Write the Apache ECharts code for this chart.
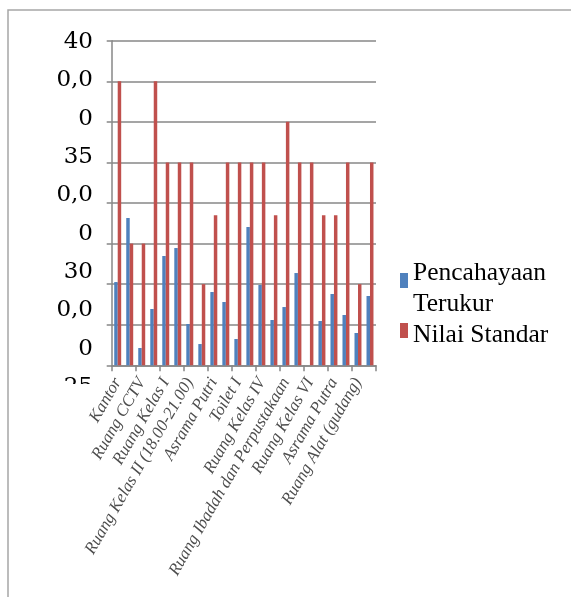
<!DOCTYPE html>
<html>
<head>
<meta charset="utf-8">
<title>Pencahayaan Terukur dan Nilai Standar</title>
<script src="https://cdn.jsdelivr.net/npm/echarts@6/dist/echarts.min.js"></script>
<style>
  html, body { margin: 0; padding: 0; background: #ffffff; }
  #chart { width: 571px; height: 597px; }
</style>
</head>
<body>
<div id="chart"></div>
<script>
// Ruangan yang diukur (label sumbu ditampilkan selang satu)
const categories = [
  'Kantor', 'Ruang Guru', 'Ruang CCTV', 'Ruang Tata Usaha',
  'Ruang Kelas I', 'Ruang Kelas II', 'Ruang Kelas II (18.00-21.00)', 'Toilet Putri',
  'Asrama Putri', 'Ruang Kelas III', 'Toilet I', 'Ruang Kelas III (18.00-21.00)',
  'Ruang Kelas IV', 'Ruang Makan', 'Ruang Ibadah dan Perpustakaan', 'Ruang Kelas V',
  'Ruang Kelas VI', 'Dapur', 'Asrama Putra', 'Ruang Kelas VII',
  'Ruang Alat (gudang)', 'Ruang Kelas VIII'
];

// Hasil pengukuran (lux)
const measured = [
  102.6, 181.5, 21.3, 69.4, 134.7, 144.5, 50.9, 26.2, 90.3, 78.0, 32.4,
  170.4, 99.0, 55.8, 71.8, 113.7, 0, 54.6, 87.9, 62.0, 39.8, 85.4
];

// Nilai standar (lux)
const standard = [
  350, 150, 150, 350, 250, 250, 250, 100, 185, 250, 250,
  250, 250, 185, 300, 250, 250, 185, 185, 250, 100, 250
];

// Label sumbu Y seperti tercetak (terbungkus per baris)
const yTickLabels = ['400,00', '350,00', '300,00', '250,00'];

const SERIF = '"Liberation Serif", "Times New Roman", serif';
const SERIF_WIDE = '"DejaVu Serif", serif';
const GRID_GRAY = '#878787';

// Kotak legenda 8x15; garis tipis di bawahnya hanya memperpanjang area ikon
// agar kotak sejajar dengan baris pertama teks.
const keyIconFirst = 'path://M0,0h8v15h-8zM0,31h8v0.01h-8z';
const keyIconSecond = 'path://M0,0h8v15h-8zM0,24h8v0.01h-8z';

const chart = echarts.init(document.getElementById('chart'), null, { renderer: 'canvas' });

const option = {
  backgroundColor: '#ffffff',
  animation: false,
  grid: { left: 111.7, right: 195, top: 40.7, bottom: 231.7, containLabel: false },
  legend: [
    {
      data: ['Pencahayaan Terukur'],
      orient: 'vertical', left: 400, top: 257.5, padding: 0, itemGap: 0,
      itemWidth: 8, itemHeight: 31, icon: keyIconFirst, selectedMode: false,
      formatter: () => 'Pencahayaan\nTerukur',
      textStyle: { fontFamily: SERIF, fontSize: 25.5, lineHeight: 31, color: '#000' }
    },
    {
      data: ['Nilai Standar'],
      orient: 'vertical', left: 400, top: 319.5, padding: 0, itemGap: 0,
      itemWidth: 8, itemHeight: 24, icon: keyIconSecond, selectedMode: false,
      textStyle: { fontFamily: SERIF, fontSize: 25.5, lineHeight: 31, color: '#000' }
    }
  ],
  xAxis: {
    type: 'category',
    data: categories,
    axisLine: { lineStyle: { color: GRID_GRAY, width: 1.5 } },
    axisTick: { show: true, length: 6, lineStyle: { color: GRID_GRAY, width: 1.5 } },
    axisLabel: {
      interval: 1, rotate: 60, margin: 14,
      fontFamily: SERIF, fontStyle: 'italic', fontSize: 17, color: '#4d4d4d'
    }
  },
  yAxis: {
    type: 'value', min: 0, max: 400, interval: 50,
    axisLine: { show: true, lineStyle: { color: GRID_GRAY, width: 1.5 } },
    axisTick: { show: true, length: 5, lineStyle: { color: GRID_GRAY, width: 1.5 } },
    axisLabel: { show: false },
    splitLine: { lineStyle: { color: GRID_GRAY, width: 1.5 } }
  },
  series: [
    {
      name: 'Pencahayaan Terukur', type: 'bar', data: measured,
      itemStyle: { color: '#4F81BD' },
      barGap: '0%', barCategoryGap: '42%'
    },
    {
      name: 'Nilai Standar', type: 'bar', data: standard,
      itemStyle: { color: '#C0504D' },
      barGap: '0%', barCategoryGap: '42%'
    }
  ]
};

chart.setOption(option);

// Label sumbu Y: tiap nilai dipecah menjadi tiga baris dan ditumpuk dari atas
const stackLines = [];
yTickLabels.forEach(s => { stackLines.push(s.slice(0, 2), s.slice(2, 5), s.slice(5)); });
const labelText = stackLines.slice(0, 10).join('\n');
const topY = chart.convertToPixel({ yAxisIndex: 0 }, 400);
const lineH = 38.3;

chart.setOption({
  graphic: [
    {
      type: 'text', silent: true, z: 5,
      x: 93, y: topY - lineH / 2 + 1.5,
      style: {
        text: labelText, font: '23px ' + SERIF_WIDE, lineHeight: lineH,
        fill: '#000', align: 'right', verticalAlign: 'top'
      }
    },
    {
      // baris terakhir terpotong oleh batas area label
      type: 'rect', silent: true, z: 6,
      shape: { x: 30, y: 384, width: 72, height: 16 },
      style: { fill: '#ffffff' }
    },
    {
      type: 'rect', silent: true, z: 7,
      shape: { x: 8, y: 10, width: 700, height: 700 },
      style: { fill: 'none', stroke: '#a6a6a6', lineWidth: 1.5 }
    }
  ]
});
</script>
</body>
</html>
